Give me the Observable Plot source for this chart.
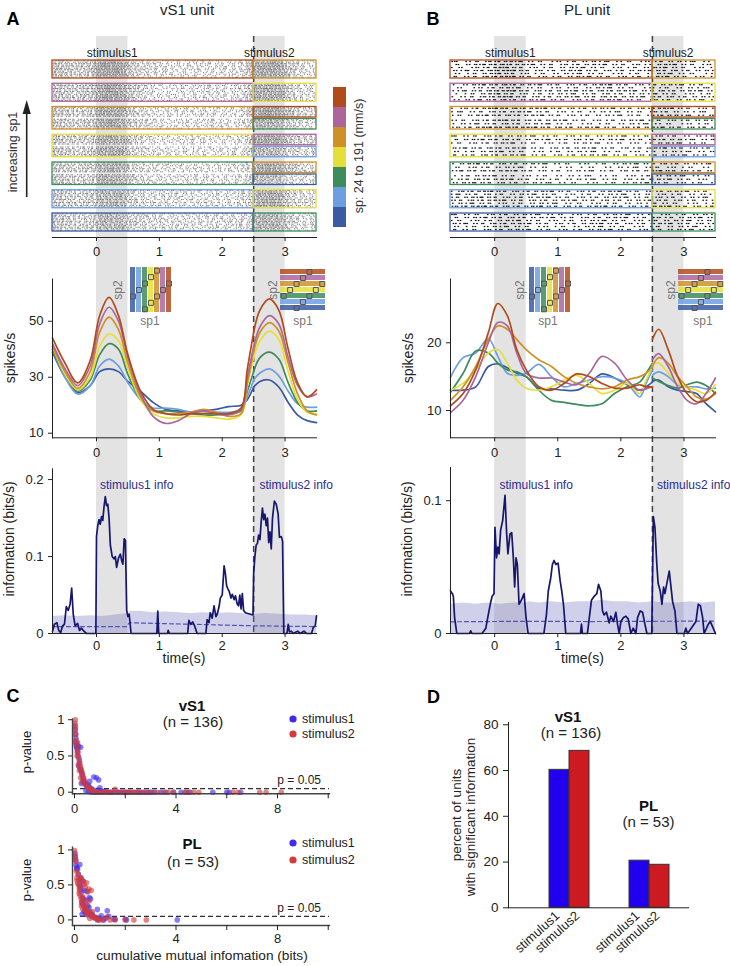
<!DOCTYPE html>
<html><head><meta charset="utf-8">
<script src="https://cdn.jsdelivr.net/npm/d3@7"></script>
<script src="https://cdn.jsdelivr.net/npm/@observablehq/plot@0.6"></script>
<style>
body{margin:0;background:#fff;}
#fig{position:relative;width:730px;height:966px;overflow:hidden;background:#fff;font-family:"Liberation Sans",Arial,Helvetica,sans-serif;}
</style></head>
<body><div id="fig"></div>
<script>
// ---------------- DATA ----------------
const speedIdx = [0,1,2,3,4,5,6];
const speedColors = ["#3a5aa2","#6d9fe0","#3e8b5c","#e5df3b","#cf9028","#ab669d","#b04c1b"];
const speedLabel = "sp: 24 to 191 (mm/s)";
const rowSp1 = [0,1,2,3,4,5,6];                       // raster rows, bottom -> top
const rowSp2 = [[2],[3],[0,4],[1,5],[2,6],[3],[4]];    // second-stimulus speeds per row [bottom, top]
const stimWindows = [[0,0.5],[2.5,3.0]];
const stimNames = ["stimulus1","stimulus2"];
const timeTicks = [0,1,2,3];
const tDomain = [-0.7, 3.5];
const tSplit = 2.5;

const tLeft  = [-0.7,-0.5,-0.3,-0.1,0.05,0.2,0.35,0.5,0.7,0.9,1.1,1.3,1.5,1.7,1.9,2.1,2.3,2.4,2.5];
const tRight = [2.5,2.6,2.75,2.9,3.05,3.2,3.35,3.5];

// vS1 unit firing rates (spikes/s), one row per speed
const vs1RateLeft = [
  [39,30,24.5,27,32,33,32,28.5,25,21,18.5,18,17.5,18,18.5,19.5,20,22,26.5],
  [40,30,24,27,34,36.5,34,28,22,19,19,18.5,17.5,17,17.5,17.5,18.5,23,29],
  [40,31,25,29,38,42,40,31,22,18,18,17.5,17,16.5,16.5,17,18,25,32],
  [41,31,25.5,30,41,45.5,43,33,22,17,15.5,15.5,16,16,15.5,15,16.5,27,37],
  [41,32,26,32,46,51.5,47,35,23,18,17,17,17.5,18.5,17.5,16,17,28,39],
  [42,33,27,34,49,55,50,37,24,16,13.5,14.5,17,18,17,16.5,18.5,30,41],
  [44,35,28,36,52,58.5,52,38,25,18.5,17,16.5,17,17,17,17,19,33,46]
];
const vs1RateRight = [
  [26.5,28.5,29,26.5,21,16.5,14.5,13.8],
  [29,31.5,33,30.5,25,20.5,19.3,19.3],
  [32,37,39,36.5,28,21,18,18],
  [37,43,46.5,43.5,32,22,17.5,17],
  [39,46,49.5,46.5,35,24,18,16.5],
  [41,48,52,49,37,27,23,24],
  [46,54,58,54,40,28,23,25.5]
];
// PL unit firing rates
const plRateLeft = [
  [13,13,13.5,16.5,16.9,16.3,15.5,15,13.3,13.2,13,13,14,15.4,14.8,13.8,13,13.5,14.2],
  [14.9,17.8,18.5,20.6,18,15.5,15.2,15.5,16.8,15,13.5,14,14.5,15,14.8,14,12,14,16],
  [12.7,15.5,18.8,18.5,17,16,15.7,15,13,11.5,11.2,10.9,10.7,11,12.5,13.5,14.2,15.5,17],
  [13,14,16,18.5,19,17,14.5,13.3,13,13.5,14.5,15.2,14,12.5,13,14,12.5,14.5,16.5],
  [11.5,13.5,16.5,20.5,22.5,22,20.5,19,17.5,16.5,15,14,13.5,13.2,13.5,14.5,15,15.5,16.5],
  [9.7,11.5,15,20,23,22.5,18.5,15.5,14.8,14.8,14.2,13.8,15.5,18,17,14.5,13,13.2,13.5],
  [10.7,12.5,16,21.5,25.8,24,19,16,13.5,13,14,15.4,15,14,13.3,13.3,13.8,13.5,13.5]
];
const plRateRight = [
  [14.3,14.5,13.5,13,12.8,12.5,11,9.8],
  [15.2,15.7,15,13.8,13.5,13.5,13.2,13.3],
  [14.8,14.3,13.7,13.3,13.8,14.2,13.7,12.5],
  [16.8,17,15.5,14,13.5,13,12.5,13.8],
  [16.5,17.8,17,15,13.5,12,11.7,12.5],
  [17.5,18.4,16.5,13.5,11.5,11,12.5,14.8],
  [20.5,22,19,15,12.5,11.3,11.5,12.7]
];

// information time courses (bits/s): [time, value]
const vs1Info = [[-0.70,0.003],[-0.67,0.012],[-0.63,0.014],[-0.60,0.004],[-0.57,0.001],[-0.54,0.010],[-0.51,0.012],[-0.48,0.035],[-0.45,0.030],[-0.42,0.038],[-0.395,0.059],[-0.37,0.025],[-0.34,0.010],[-0.30,0.013],[-0.27,0.004],[-0.24,0.007],[-0.20,0.003],[-0.16,0],[-0.01,0],[0.00,0.126],[0.02,0.140],[0.04,0.148],[0.06,0.142],[0.08,0.152],[0.10,0.147],[0.12,0.165],[0.14,0.178],[0.16,0.166],[0.18,0.168],[0.20,0.150],[0.22,0.115],[0.25,0.100],[0.28,0.097],[0.30,0.100],[0.32,0.086],[0.35,0.098],[0.38,0.103],[0.40,0.095],[0.42,0.090],[0.44,0.123],[0.46,0.121],[0.48,0.030],[0.50,0.022],[0.52,0.025],[0.55,0],[0.96,0],[0.975,0.029],[0.99,0],[1.13,0],[1.14,0.004],[1.16,0],[1.45,0],[1.47,0.017],[1.50,0.012],[1.53,0.015],[1.56,0.010],[1.60,0],[1.74,0],[1.76,0.018],[1.79,0.014],[1.81,0.027],[1.84,0.020],[1.87,0.036],[1.90,0.022],[1.92,0.025],[1.95,0.035],[1.97,0.046],[2.00,0.050],[2.03,0.088],[2.05,0.078],[2.07,0.062],[2.09,0.058],[2.11,0.055],[2.14,0.046],[2.16,0.051],[2.19,0.044],[2.21,0.049],[2.24,0.038],[2.26,0.036],[2.28,0.050],[2.30,0.032],[2.32,0.052],[2.34,0.030],[2.37,0.027],[2.41,0.026],[2.45,0.025],[2.49,0.024],[2.50,0.078],[2.52,0.100],[2.54,0.115],[2.56,0.117],[2.58,0.128],[2.60,0.122],[2.62,0.145],[2.64,0.163],[2.66,0.148],[2.68,0.155],[2.70,0.140],[2.72,0.150],[2.74,0.118],[2.76,0.132],[2.78,0.110],[2.80,0.150],[2.83,0.172],[2.86,0.168],[2.89,0.155],[2.91,0.125],[2.94,0.126],[2.96,0.120],[2.98,0],[3.03,0],[3.05,0.012],[3.07,0.002],[3.10,0.003],[3.13,0],[3.20,0.003],[3.24,0],[3.30,0.003],[3.34,0],[3.42,0],[3.45,0.008],[3.48,0.010],[3.50,0.023]];
const plInfo = [[-0.70,0.032],[-0.67,0.030],[-0.655,0.028],[-0.635,0.012],[-0.60,0],[-0.40,0],[-0.38,0.002],[-0.36,0],[-0.20,0],[-0.14,0.004],[-0.11,0.012],[-0.07,0.022],[-0.04,0.028],[-0.01,0.030],[0.005,0.080],[0.03,0.057],[0.05,0.065],[0.07,0.060],[0.095,0.078],[0.127,0.085],[0.164,0.104],[0.19,0.075],[0.21,0.060],[0.243,0.075],[0.27,0.076],[0.296,0.057],[0.317,0.035],[0.339,0.057],[0.36,0.052],[0.386,0.022],[0.423,0.025],[0.466,0.030],[0.497,0.012],[0.53,0],[0.78,0],[0.82,0.014],[0.85,0.032],[0.889,0.042],[0.915,0.052],[0.942,0.055],[0.968,0.052],[1.005,0.053],[1.037,0.040],[1.063,0.032],[1.09,0.022],[1.127,0],[1.36,0],[1.376,0.007],[1.39,0],[1.47,0],[1.50,0.012],[1.534,0.025],[1.577,0.028],[1.619,0.030],[1.646,0.037],[1.683,0.032],[1.709,0.017],[1.735,0.014],[1.772,0.016],[1.815,0.008],[1.841,0.013],[1.884,0.009],[1.921,0.016],[1.947,0.007],[1.974,0],[2.0,0.009],[2.042,0.012],[2.08,0.013],[2.116,0.011],[2.159,0],[2.196,0.004],[2.238,0],[2.265,0.012],[2.307,0.017],[2.344,0.016],[2.381,0.007],[2.413,0],[2.49,0],[2.515,0.088],[2.54,0.080],[2.57,0.052],[2.59,0.038],[2.624,0.032],[2.651,0.022],[2.677,0.035],[2.698,0.030],[2.73,0.038],[2.767,0.047],[2.79,0.037],[2.82,0.024],[2.857,0.017],[2.889,0],[3.005,0],[3.03,0.004],[3.058,0],[3.19,0.009],[3.226,0.022],[3.26,0.021],[3.296,0.012],[3.32,0],[3.386,0.007],[3.418,0.009],[3.455,0.005],[3.50,0]];
// shuffled-information band (95th pct) and mean
const shuffleT = [-0.7,-0.5,-0.3,-0.1,0.1,0.3,0.5,0.55,0.7,0.9,1.1,1.3,1.5,1.7,1.9,2.1,2.3,2.5,2.7,2.9,3.1,3.3,3.5];
const vs1ShuffleHi = [0.022,0.023,0.022,0.023,0.022,0.024,0.026,0.029,0.029,0.027,0.028,0.027,0.026,0.027,0.026,0.027,0.026,0.025,0.026,0.025,0.024,0.024,0.023];
const plShuffleHi  = [0.022,0.023,0.022,0.023,0.022,0.023,0.023,0.024,0.023,0.024,0.023,0.024,0.024,0.025,0.024,0.024,0.023,0.024,0.023,0.023,0.024,0.023,0.024];
const vs1MeanT = [-0.7,0.48,0.52,1.0,1.5,2.0,2.5,3.0,3.5];
const vs1ShuffleMean = [0.009,0.009,0.014,0.013,0.012,0.011,0.010,0.0095,0.009];
const plMeanT = [-0.7,0.5,1.5,2.5,3.5];
const plShuffleMean = [0.0088,0.0092,0.0090,0.0092,0.0093];

// panel C: cumulative mutual information (bits) vs p-value
const vs1Stim1Pts = [[0.02,0.92],[0.03,0.86],[0.04,0.80],[0.05,0.75],[0.03,0.70],[0.06,0.65],[0.08,0.62],[0.10,0.60],[0.12,0.68],[0.16,0.63],[0.24,0.62],[0.11,0.55],[0.14,0.50],[0.18,0.45],[0.20,0.40],[0.16,0.36],[0.22,0.33],[0.25,0.30],[0.28,0.27],[0.30,0.24],[0.33,0.20],[0.35,0.16],[0.38,0.14],[0.27,0.12],[0.42,0.12],[0.45,0.10],[0.50,0.08],[0.55,0.10],[0.58,0.07],[0.60,0.15],[0.65,0.05],[0.70,0.04],[0.76,0.21],[0.86,0.20],[0.95,0.17],[0.90,0.03],[1.00,0.06],[1.05,0.02],[1.15,0.01],[1.25,0.005],[1.35,0],[1.45,0],[1.55,0],[1.7,0],[1.8,0],[1.9,0],[2.0,0],[2.1,0],[2.2,0],[2.35,0],[2.5,0],[2.6,0],[2.75,0],[2.9,0],[3.0,0],[3.15,0],[3.4,0],[3.6,0],[3.9,0],[4.2,0],[4.4,0],[4.55,0],[5.45,0],[6.0,0],[6.1,0],[6.55,0],[0.45,0.02],[0.55,0.01],[0.65,0],[0.75,0],[0.85,0],[0.95,0],[1.1,0]];
const vs1Stim2Pts = [[0.03,1.00],[0.02,0.95],[0.04,0.90],[0.03,0.85],[0.05,0.80],[0.07,0.72],[0.06,0.68],[0.09,0.64],[0.12,0.58],[0.14,0.55],[0.10,0.50],[0.17,0.48],[0.20,0.42],[0.15,0.38],[0.23,0.36],[0.19,0.30],[0.26,0.32],[0.29,0.28],[0.32,0.24],[0.24,0.20],[0.36,0.20],[0.40,0.16],[0.30,0.14],[0.44,0.12],[0.48,0.09],[0.52,0.07],[0.57,0.05],[0.62,0.04],[0.68,0.03],[0.75,0.02],[0.82,0.01],[0.9,0],[1.0,0],[1.1,0],[1.2,0],[1.3,0],[1.6,0.04],[1.4,0],[1.5,0],[1.7,0],[1.85,0],[1.95,0],[2.05,0],[2.2,0],[2.3,0],[2.45,0],[2.55,0],[2.7,0],[2.85,0],[3.05,0],[3.25,0],[3.5,0],[3.7,0],[3.9,0],[4.35,0],[4.5,0],[4.7,0],[4.9,0],[6.25,0],[6.45,0],[7.3,0],[7.55,0],[8.15,0]];
const plStim1Pts = [[0.02,0.95],[0.03,0.90],[0.05,0.85],[0.06,0.78],[0.08,0.73],[0.10,0.75],[0.12,0.72],[0.21,0.79],[0.15,0.65],[0.18,0.58],[0.20,0.52],[0.22,0.48],[0.25,0.45],[0.27,0.40],[0.30,0.32],[0.28,0.25],[0.32,0.22],[0.35,0.30],[0.38,0.20],[0.42,0.15],[0.45,0.10],[0.50,0.07],[0.57,0.18],[0.60,0.12],[0.63,0.30],[0.68,0.05],[0.70,0.08],[0.78,0.03],[0.90,0.15],[0.96,0],[1.0,0.02],[1.05,0.06],[1.29,0.13],[1.35,0.05],[1.55,0.01],[1.6,0.01],[2.0,0.01],[2.05,0],[4.05,0],[0.40,0.42],[0.49,0.41],[0.35,0.55],[0.25,0.60],[0.58,0.32],[0.48,0.28],[0.52,0.20],[0.65,0.08],[0.82,0.04],[0.9,0.01],[1.15,0],[1.2,0.02],[0.38,0.12],[0.3,0.08]];
const plStim2Pts = [[0.0,0.99],[0.02,0.92],[0.04,0.87],[0.05,0.83],[0.07,0.70],[0.10,0.56],[0.12,0.52],[0.17,0.49],[0.19,0.45],[0.20,0.42],[0.24,0.60],[0.28,0.58],[0.33,0.55],[0.37,0.51],[0.42,0.47],[0.47,0.53],[0.52,0.40],[0.57,0.44],[0.66,0.42],[0.22,0.35],[0.26,0.30],[0.30,0.26],[0.35,0.22],[0.41,0.18],[0.45,0.15],[0.50,0.12],[0.58,0.27],[0.55,0.10],[0.62,0.08],[0.70,0.06],[0.75,0.04],[0.80,0.03],[0.88,0.02],[1.0,0.01],[1.1,0],[1.29,0.04],[1.4,0],[1.6,0],[2.0,0],[2.34,0],[2.83,0],[0.18,0.38],[0.32,0.33],[0.38,0.28],[0.44,0.22],[0.15,0.65],[0.09,0.60],[0.48,0.08],[0.6,0.02],[0.9,0],[0.33,0.15],[0.27,0.20],[0.7,0.12]];
const pThreshold = 0.05;
const cmiTicks = [0,2,4,6,8,10];
const pTicks = [0,0.5,1];

// panel D
const regions = ["vS1","PL"];
const regionN = [136,53];
const pctStim1 = [60.3,20.6];
const pctStim2 = [68.6,18.8];
const pctTicks = [0,20,40,60,80];
const stimColors = ["#2200ee","#cc1a20"];
const dotColors = ["#3d2bf3","#d43a3a"];

// raster texture (relative inter-spike interval multipliers, trial gains)
const isiScale = [0.35,1.6,0.8,1.25,0.5,2.1,0.9,0.6,1.45,1.1,0.45,1.8,0.7,1.3,0.55,1.0,0.95,0.4];
const trialGain = [1.0,0.85,1.15,0.95,1.1,0.9,1.2,0.8,1.05];

// ---------------- LAYOUT HELPERS ----------------
const W = 730, H = 966;
const fig = document.getElementById("fig");
const FONT = "'Liberation Sans', Arial, Helvetica, sans-serif";
function place(el, left, top) {
  el.style.position = "absolute"; el.style.left = left + "px"; el.style.top = top + "px";
  fig.appendChild(el); return el;
}
function st(size) { return {fontFamily: FONT, fontSize: size + "px", background: "none", overflow: "visible", color: "#222"}; }
const cols = [
  {left: 0, width: 370, x0: 52, x1: 316},
  {left: 370, width: 360, x0: 450, x1: 715}
];
function hm(c) { return {width: c.width, marginLeft: c.x0 - c.left, marginRight: c.left + c.width - c.x1}; }
const colorScale = {type: "ordinal", domain: speedIdx, range: speedColors};
const fmt = d => String(d);

function interp(ts, vs, t) {
  if (t <= ts[0]) return vs[0];
  for (let i = 1; i < ts.length; i++) if (t <= ts[i]) {
    const f = (t - ts[i-1]) / (ts[i] - ts[i-1]); return vs[i-1] + f * (vs[i] - vs[i-1]);
  }
  return vs[vs.length - 1];
}

function buildRaster(rL, rR, cfg) {
  const spikes = [], boxes = [];
  let y = cfg.bottom, g = 0; const L = isiScale.length, dt = 0.002;
  rowSp1.forEach((c1, r) => {
    const sp2 = rowSp2[r];
    const h = sp2.length === 1 ? cfg.singleH : cfg.doubleH;
    const y1 = y, y2 = y + h;
    boxes.push({x1: tDomain[0], x2: tSplit, y1, y2, c: c1});
    const subs = sp2.length === 1 ? [{c: sp2[0], y1, y2, n: cfg.nSingle}]
      : [{c: sp2[0], y1, y2: y1 + cfg.halfH, n: cfg.nHalf}, {c: sp2[1], y1: y2 - cfg.halfH, y2, n: cfg.nHalf}];
    subs.forEach(s => {
      boxes.push({x1: tSplit, x2: tDomain[1], y1: s.y1, y2: s.y2, c: s.c});
      for (let k = 0; k < s.n; k++) {
        const ty = s.y1 + (k + 0.5) * (s.y2 - s.y1) / s.n;
        let j = (g * 7) % L;
        let acc = isiScale[(g * 5 + 3) % L] * 0.5;
        const gain = trialGain[g % trialGain.length];
        for (let t = tDomain[0]; t < tDomain[1] - cfg.sw; t += dt) {
          const rate = t < tSplit ? interp(tLeft, rL[c1], t) : interp(tRight, rR[s.c], t);
          acc -= rate * gain * dt;
          if (acc <= 0) { spikes.push({t, y: ty}); acc += isiScale[j]; j = (j + 1) % L; }
        }
        g++;
      }
    });
    y = y2 + cfg.gap;
  });
  return {spikes, boxes};
}
function rateRows(times, table) {
  return table.flatMap((vals, c) => vals.map((v, i) => ({t: times[i], v, c})));
}

// ---------------- PANELS A & B ----------------
const units = [
  {col: cols[0], rL: vs1RateLeft, rR: vs1RateRight, info: vs1Info, hi: vs1ShuffleHi, meanT: vs1MeanT, mean: vs1ShuffleMean,
   rateDomain: [8.36, 65.1], rateTicks: [10,30,50], infoDomain: [0, 0.214], infoTicks: [0,0.1,0.2], infoTop: 468.3,
   raster: {bottom: 4, singleH: 12, doubleH: 15, halfH: 7, nSingle: 12, nHalf: 7, gap: 3.5, sw: 0.017, sh: 0.7, fill: "#7a7a7a"}},
  {col: cols[1], rL: plRateLeft, rR: plRateRight, info: plInfo, hi: plShuffleHi, meanT: plMeanT, mean: plShuffleMean,
   rateDomain: [5.97, 29.42], rateTicks: [10,20], infoDomain: [0, 0.125], infoTicks: [0,0.1], infoTop: 467,
   raster: {bottom: 4, singleH: 12, doubleH: 15, halfH: 7, nSingle: 6, nHalf: 3, gap: 3.5, sw: 0.026, sh: 0.8, fill: "#111"}}
];

units.forEach(u => {
  const c = u.col;
  // background: stimulus windows + second stimulus onset
  place(Plot.plot({
    ...hm(c), height: 597, marginTop: 0, marginBottom: 0, style: st(13),
    x: {domain: tDomain, axis: null},
    marks: [
      Plot.rect(stimWindows, {x1: d => d[0], x2: d => d[1], fill: "#e3e3e3"}),
      Plot.ruleX([tSplit], {stroke: "#404040", strokeWidth: 1.5, strokeDasharray: "6,4"})
    ]
  }), c.left, 36);

  // raster
  const R = buildRaster(u.rL, u.rR, u.raster);
  const cfg = u.raster;
  place(Plot.plot({
    ...hm(c), height: 224, marginTop: 0, marginBottom: 23, style: st(13),
    x: {domain: tDomain}, y: {domain: [0, 134], axis: null}, color: colorScale,
    marks: [
      Plot.rect(R.spikes, {x1: "t", x2: d => d.t + cfg.sw, y1: d => d.y - cfg.sh / 2, y2: d => d.y + cfg.sh / 2, fill: cfg.fill}),
      Plot.rect(R.boxes, {x1: "x1", x2: "x2", y1: "y1", y2: "y2", stroke: "c", fill: "none", strokeWidth: 1.3}),
      Plot.text(stimWindows, {x: d => (d[0] + d[1]) / 2, text: (d, i) => stimNames[i], frameAnchor: "top", dy: 12, fontSize: 12, fill: "#222"}),
      Plot.frame({anchor: "bottom"}),
      Plot.axisX(timeTicks, {tickSize: 4, tickPadding: 5, label: null, tickFormat: fmt})
    ]
  }), c.left, 36);

  // firing rate
  place(Plot.plot({
    ...hm(c), height: 200, marginTop: 18.5, marginBottom: 22.7, style: st(13),
    x: {domain: tDomain}, y: {domain: u.rateDomain}, color: colorScale,
    marks: [
      Plot.line(rateRows(tLeft, u.rL), {x: "t", y: "v", z: "c", stroke: "c", curve: "catmull-rom", strokeWidth: 1.7}),
      Plot.line(rateRows(tRight, u.rR), {x: "t", y: "v", z: "c", stroke: "c", curve: "catmull-rom", strokeWidth: 1.7}),
      Plot.frame({anchor: "left"}),
      Plot.frame({anchor: "bottom"}),
      Plot.axisY(u.rateTicks, {tickSize: 4, tickPadding: 5, label: null, tickFormat: fmt}),
      Plot.axisX(timeTicks, {tickSize: 4, tickPadding: 5.5, label: null, tickFormat: fmt})
    ]
  }), c.left, 260);

  // information
  const band = shuffleT.map((t, i) => ({t, hi: u.hi[i]}));
  const mean = u.meanT.map((t, i) => ({t, m: u.mean[i]}));
  place(Plot.plot({
    ...hm(c), height: 200, marginTop: u.infoTop - 460, marginBottom: 27, style: st(13),
    x: {domain: tDomain}, y: {domain: u.infoDomain},
    marks: [
      Plot.areaY(band, {x: "t", y1: 0, y2: "hi", fill: "#7070c0", fillOpacity: 0.33}),
      Plot.line(mean, {x: "t", y: "m", stroke: "#5353b3", strokeWidth: 1.2, strokeDasharray: "4,3"}),
      Plot.line(u.info, {x: d => d[0], y: d => d[1], stroke: "#16166e", strokeWidth: 1.7}),
      Plot.frame({anchor: "left"}),
      Plot.frame({anchor: "bottom"}),
      Plot.axisY(u.infoTicks, {tickSize: 4, tickPadding: 5, label: null, tickFormat: fmt}),
      Plot.axisX(timeTicks, {tickSize: 4, tickPadding: 3.5, label: null, tickFormat: fmt})
    ]
  }), c.left, 460);
});

// speed-pair insets
const pairs = rowSp1.flatMap((s1, i) => rowSp2[i].map(s2 => ({sp1: s1, sp2: s2})));
function insetVertical() {
  return Plot.plot({
    width: 45, height: 45, margin: 0, style: st(10), color: colorScale,
    x: {type: "band", domain: speedIdx, paddingInner: 0.18, paddingOuter: 0, axis: null},
    y: {domain: [-0.5, 6.5], axis: null},
    marks: [
      Plot.cell(speedIdx, {x: d => d, fill: d => d, fillOpacity: 0.85}),
      Plot.dot(pairs, {x: "sp1", y: "sp2", symbol: "square", r: 2.8, stroke: "#555", strokeWidth: 1, fill: "none"})
    ]
  });
}
function insetHorizontal() {
  return Plot.plot({
    width: 45, height: 45, margin: 0, style: st(10), color: colorScale,
    y: {type: "band", domain: speedIdx.slice().reverse(), paddingInner: 0.18, paddingOuter: 0, axis: null},
    x: {domain: [-0.5, 6.5], axis: null},
    marks: [
      Plot.cell(speedIdx, {y: d => d, fill: d => d, fillOpacity: 0.85}),
      Plot.dot(pairs, {x: "sp1", y: "sp2", symbol: "square", r: 2.8, stroke: "#555", strokeWidth: 1, fill: "none"})
    ]
  });
}
place(insetVertical(), 128, 267);
place(insetHorizontal(), 280, 267);
place(insetVertical(), 527, 267);
place(insetHorizontal(), 678, 267);

// colorbar
place(Plot.plot({
  width: 13, height: 143, margin: 0, style: st(10), color: colorScale,
  y: {type: "band", domain: speedIdx.slice().reverse(), padding: 0, axis: null},
  marks: [Plot.cell(speedIdx, {y: d => d, fill: d => d})]
}), 333, 85);

// ---------------- PANEL C ----------------
function scatter(s1, s2, yDomain, top, height, mt, mb, xPad) {
  return place(Plot.plot({
    width: 370, height, marginLeft: 72, marginRight: 41, marginTop: mt, marginBottom: mb, style: st(13),
    x: {domain: [-0.08, 10.05]}, y: {domain: yDomain},
    marks: [
      Plot.ruleY([pThreshold], {stroke: "#333", strokeWidth: 1.1, strokeDasharray: "5,3"}),
      Plot.dot(s1, {x: d => d[0], y: d => d[1], r: 2.8, fill: dotColors[0], fillOpacity: 0.62}),
      Plot.dot(s2, {x: d => d[0], y: d => d[1], r: 2.8, fill: dotColors[1], fillOpacity: 0.62}),
      Plot.frame({anchor: "left", stroke: "#444", strokeWidth: 1.4}),
      Plot.frame({anchor: "bottom", stroke: "#444", strokeWidth: 1.4}),
      Plot.axisY(pTicks, {tickSize: 4, tickPadding: 4, label: null, tickFormat: fmt}),
      Plot.axisX(cmiTicks, {tickSize: 5, tickPadding: xPad, label: null, tickFormat: d => d % 4 === 0 ? String(d) : ""})
    ]
  }), 0, top);
}
scatter(vs1Stim1Pts, vs1Stim2Pts, [-0.022, 1.01], 700, 125, 18.5, 31.7, 5);
scatter(plStim1Pts, plStim2Pts, [-0.08, 1.04], 830, 136, 16.6, 41, 3);

// ---------------- PANEL D ----------------
const bars1 = regions.map((r, i) => ({region: r, pct: pctStim1[i], stim: stimNames[0]}));
const bars2 = regions.map((r, i) => ({region: r, pct: pctStim2[i], stim: stimNames[1]}));
place(Plot.plot({
  width: 360, height: 266, marginLeft: 138, marginRight: 42, marginTop: 22, marginBottom: 58.7, style: st(13.5),
  x: {type: "band", domain: regions, paddingInner: 0.5, paddingOuter: 0.375, align: 0.683, axis: null},
  y: {domain: [0, 81]},
  marks: [
    Plot.barY(bars1, {x: "region", y: "pct", fill: stimColors[0], stroke: "#333", strokeWidth: 1, insetRight: 20}),
    Plot.barY(bars2, {x: "region", y: "pct", fill: stimColors[1], stroke: "#333", strokeWidth: 1, insetLeft: 20}),
    Plot.frame({anchor: "left"}),
    Plot.frame({anchor: "bottom"}),
    Plot.axisY(pctTicks, {tickSize: 5, tickPadding: 5, label: null, tickFormat: fmt}),
    Plot.text(bars1, {x: "region", text: "stim", frameAnchor: "bottom", dx: -9, dy: 9, rotate: -42, textAnchor: "end", fontSize: 13}),
    Plot.text(bars2, {x: "region", text: "stim", frameAnchor: "bottom", dx: 11, dy: 9, rotate: -42, textAnchor: "end", fontSize: 13})
  ]
}), 370, 700);

// ---------------- ANNOTATIONS ----------------
const ov = d3.create("svg").attr("width", W).attr("height", H)
  .style("position", "absolute").style("left", "0px").style("top", "0px").style("overflow", "visible")
  .style("font-family", FONT).style("pointer-events", "none");
function label(txt, x, y, o = {}) {
  const t = ov.append("text").attr("x", x).attr("y", y)
    .attr("text-anchor", o.anchor || "middle").attr("dominant-baseline", "central")
    .attr("font-size", o.size || 13).attr("fill", o.color || "#222").text(txt);
  if (o.weight) t.attr("font-weight", o.weight);
  if (o.rotate) t.attr("transform", `rotate(${o.rotate},${x},${y})`);
  return t;
}
// panel letters & titles
label("A", 13, 19, {size: 18, weight: "bold", color: "#000"});
label("B", 433, 19, {size: 18, weight: "bold", color: "#000"});
label("C", 13, 696, {size: 18, weight: "bold", color: "#000"});
label("D", 433.5, 696.5, {size: 18, weight: "bold", color: "#000"});
label("vS1 unit", 187, 9, {size: 15});
label("PL unit", 587, 9, {size: 15});
// raster annotations
label("increasing sp1", 13, 152, {size: 12.5, rotate: -90, color: "#333"});
ov.append("line").attr("x1", 26.7).attr("x2", 26.7).attr("y1", 197).attr("y2", 110).attr("stroke", "#222").attr("stroke-width", 1.6);
ov.append("path").attr("d", "M26.7,100 L22.6,114 L30.8,114 Z").attr("fill", "#222");
label(speedLabel, 359, 156, {size: 12.5, rotate: -90, color: "#333"});
// axis titles
[9.5, 407.5].forEach(x => {
  label("spikes/s", x, 358, {size: 14, rotate: -90});
  label("information (bits/s)", x - 0.5, 539, {size: 14, rotate: -90});
});
label("time(s)", 184, 658, {size: 14});
label("time(s)", 582.5, 658, {size: 14});
// info labels
const infoColor = "#2b2b8e";
label("stimulus1 info", 100, 485, {anchor: "start", size: 12, color: infoColor});
label("stimulus2 info", 259.5, 485, {anchor: "start", size: 12, color: infoColor});
label("stimulus1 info", 499.5, 485, {anchor: "start", size: 12, color: infoColor});
label("stimulus2 info", 657, 485, {anchor: "start", size: 12, color: infoColor});
// inset labels
[[118, 150], [273, 303], [520, 548], [671, 703]].forEach(([a, b]) => {
  label("sp2", a, 290, {size: 12, rotate: -90, color: "#777"});
  label("sp1", b, 321, {size: 12, color: "#777"});
});
// panel C annotations
[[705, 721, 719, 734, 779.5, "vS1", regionN[0]], [843, 861, 843, 860, 908, "PL", regionN[1]]].forEach(([t1, t2, l1, l2, pl, name, n]) => {
  label(name, 192, t1, {size: 15, weight: "bold", color: "#111"});
  label(`(n = ${n})`, 193, t2, {size: 15});
  ov.append("circle").attr("cx", 293).attr("cy", l1).attr("r", 3.6).attr("fill", dotColors[0]);
  ov.append("circle").attr("cx", 293).attr("cy", l2).attr("r", 3.6).attr("fill", dotColors[1]);
  label(stimNames[0], 302, l1, {anchor: "start", size: 12.5});
  label(stimNames[1], 302, l2, {anchor: "start", size: 12.5});
  label(`p = ${pThreshold}`, 321, pl, {anchor: "end", size: 12});
});
label("p-value", 26, 752, {size: 13, rotate: -90});
label("p-value", 26, 880, {size: 13, rotate: -90});
label("cumulative mutual infomation (bits)", 202, 955, {size: 13.7});
// panel D annotations
label("vS1", 568, 716.7, {size: 15, weight: "bold", color: "#111"});
label(`(n = ${regionN[0]})`, 571, 732, {size: 15});
label("PL", 648.5, 805, {size: 15, weight: "bold", color: "#111"});
label(`(n = ${regionN[1]})`, 648.5, 821, {size: 15});
label("percent of units", 456.7, 815, {size: 13.5, rotate: -90});
label("with significant information", 470.5, 817, {size: 13.5, rotate: -90});

fig.appendChild(ov.node());
</script>
</body></html>
